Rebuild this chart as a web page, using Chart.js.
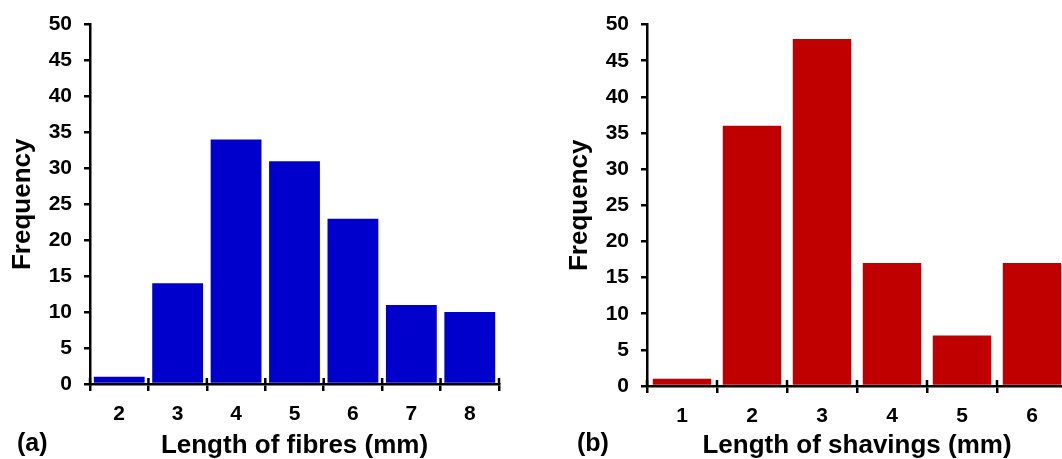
<!DOCTYPE html>
<html>
<head>
<meta charset="utf-8">
<script src="https://cdn.jsdelivr.net/npm/chart.js@4.4.1/dist/chart.umd.min.js"></script>
<style>
    html, body { margin: 0; padding: 0; background: #fff; }
    body { width: 1062px; height: 459px; overflow: hidden; position: relative; font-family: "Liberation Sans", Arial, sans-serif; }
    .panel { position: absolute; top: 0; }
    .tag { position: absolute; font-weight: bold; font-size: 25px; color: #000; }
</style>
</head>
<body>
<div class="panel" style="left:0"><canvas id="fibresChart" width="530" height="459"></canvas></div>
<div class="panel" style="left:557px"><canvas id="shavingsChart" width="530" height="459"></canvas></div>
<div class="tag" style="left:17px; top:428px">(a)</div>
<div class="tag" style="left:577px; top:428px">(b)</div>
<script>
// data
const fibreLengths = ['2', '3', '4', '5', '6', '7', '8'];
const fibreCounts = [1, 14, 34, 31, 23, 11, 10];
const shavingLengths = ['1', '2', '3', '4', '5', '6'];
const shavingCounts = [1, 36, 48, 17, 7, 17];
const yTicks = [0, 5, 10, 15, 20, 25, 30, 35, 40, 45, 50];

const tickFont = { family: '"Liberation Sans", Arial, sans-serif', size: 21, weight: 'bold' };
const titleFont = { family: '"Liberation Sans", Arial, sans-serif', size: 26, weight: 'bold' };

// Excel-style "cross" tick marks: also draw the part above the x axis
const crossTicks = {
    id: 'crossTicks',
    afterDatasetsDraw(chart) {
        const x = chart.scales.x;
        const ctx = chart.ctx;
        const step = x.getPixelForValue(1) - x.getPixelForValue(0);
        ctx.save();
        ctx.strokeStyle = '#000';
        ctx.lineWidth = 2.5;
        ctx.beginPath();
        for (let i = 0; i <= x.ticks.length; i++) {
            const px = x.getPixelForValue(i) - step / 2;
            ctx.moveTo(px, x.top);
            ctx.lineTo(px, x.top - 6);
        }
        ctx.stroke();
        ctx.restore();
    }
};

function renderHistogram(id, labels, values, color, xTitle, barPct, axisHeight, padRight) {
    const ctx = document.getElementById(id).getContext('2d');
    new Chart(ctx, {
        type: 'bar',
        data: {
            labels: labels,
            datasets: [{
                data: values,
                backgroundColor: color,
                barPercentage: barPct,
                categoryPercentage: 1
            }]
        },
        options: {
            responsive: false,
            animation: false,
            layout: { padding: { top: 22, right: padRight, bottom: 0, left: 0 } },
            plugins: {
                legend: { display: false },
                tooltip: { enabled: false }
            },
            scales: {
                x: {
                    grid: { offset: true, drawOnChartArea: false, tickLength: 7, color: '#000', lineWidth: 2.5 },
                    border: { color: '#000', width: 2.5 },
                    ticks: { color: '#000', font: tickFont, padding: 11, maxRotation: 0 },
                    title: { display: true, text: xTitle, color: '#000', font: titleFont, padding: { top: 0, bottom: -2 } },
                    afterFit: s => { s.height = axisHeight; }
                },
                y: {
                    min: 0,
                    max: 50,
                    afterBuildTicks: s => { s.ticks = yTicks.map(v => ({ value: v })); },
                    grid: { drawOnChartArea: false, tickLength: 6, color: '#000', lineWidth: 2.5 },
                    border: { color: '#000', width: 2.5 },
                    ticks: { color: '#000', font: tickFont, padding: 12 },
                    title: { display: true, text: 'Frequency', color: '#000', font: titleFont, padding: { top: 7, bottom: 0 } },
                    afterFit: s => { s.width = 90; }
                }
            }
        },
        plugins: [crossTicks]
    });
}

renderHistogram('fibresChart', fibreLengths, fibreCounts, '#0000CC', 'Length of fibres (mm)', 0.87, 75, 31);
renderHistogram('shavingsChart', shavingLengths, shavingCounts, '#C00000', 'Length of shavings (mm)', 0.835, 73, 20);
</script>
</body>
</html>
